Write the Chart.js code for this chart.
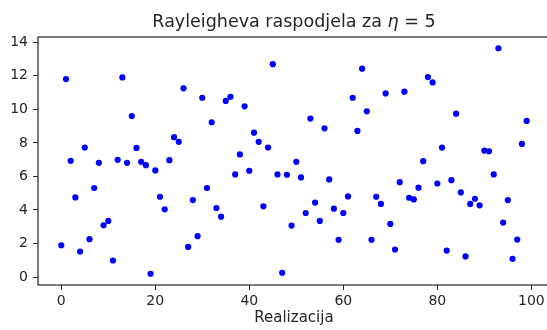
<!DOCTYPE html>
<html>
<head>
<meta charset="utf-8">
<script src="https://cdn.jsdelivr.net/npm/chart.js@4"></script>
<style>
  html, body { margin: 0; padding: 0; background: #fff; overflow: hidden; }
  #wrap { width: 553px; height: 330px; }
</style>
</head>
<body>
<div id="wrap"><canvas id="rayleighChart" width="553" height="330"></canvas></div>
<script>
// uzorci Rayleigheve razdiobe, eta = 5
var realizacije = Array.from({ length: 100 }, (_, i) => i);
var uzorci = [
    1.90, 11.80, 6.93, 4.75, 1.52, 7.72, 2.26, 5.31, 6.81, 3.09,
    3.35, 0.99, 6.99, 11.90, 6.81, 9.60, 7.70, 6.87, 6.67, 0.20,
    6.36, 4.79, 4.04, 6.97, 8.34, 8.06, 11.25, 1.80, 4.59, 2.44,
    10.69, 5.31, 9.23, 4.12, 3.60, 10.50, 10.75, 6.12, 7.31, 10.18,
    6.34, 8.61, 8.06, 4.22, 7.72, 12.69, 6.12, 0.26, 6.10, 3.07,
    6.87, 5.94, 3.82, 9.45, 4.44, 3.35, 8.87, 5.82, 4.08, 2.22,
    3.82, 4.81, 10.69, 8.71, 12.42, 9.88, 2.22, 4.79, 4.36, 10.95,
    3.17, 1.64, 5.66, 11.05, 4.73, 4.63, 5.33, 6.91, 11.92, 11.60,
    5.58, 7.72, 1.58, 5.78, 9.74, 5.05, 1.23, 4.36, 4.67, 4.28,
    7.54, 7.50, 6.12, 13.64, 3.25, 4.59, 1.09, 2.24, 7.94, 9.31
];
var xTicks = [0, 20, 40, 60, 80, 100];
var yTicks = [0, 2, 4, 6, 8, 10, 12, 14];

var tamno = '#262626';
var font = 'DejaVu Sans';

// okvir, naslov i oznaka x osi
var okvir = {
    id: 'okvir',
    afterDraw(chart) {
        var ctx = chart.ctx, a = chart.chartArea;
        ctx.save();
        ctx.strokeStyle = tamno;
        ctx.lineWidth = 1.2;
        ctx.strokeRect(a.left, a.top, a.right - a.left, a.bottom - a.top);

        ctx.fillStyle = tamno;
        ctx.textBaseline = 'alphabetic';
        var dijelovi = [
            ['Rayleigheva raspodjela za ', 'normal'],
            ['\u03b7', 'italic'],
            [' = 5', 'normal']
        ];
        var size = 17.5, total = 0;
        dijelovi.forEach(d => {
            ctx.font = d[1] + ' ' + size + 'px "' + font + '"';
            d.push(ctx.measureText(d[0]).width);
            total += d[2];
        });
        var x = (a.left + a.right) / 2 - total / 2;
        dijelovi.forEach(d => {
            ctx.font = d[1] + ' ' + size + 'px "' + font + '"';
            ctx.textAlign = 'left';
            ctx.fillText(d[0], x, 27);
            x += d[2];
        });

        ctx.font = '15px "' + font + '"';
        ctx.textAlign = 'center';
        ctx.fillText('Realizacija', (a.left + a.right) / 2, 322);
        ctx.restore();
    }
};

var ctx = document.getElementById('rayleighChart').getContext('2d');
var chart = new Chart(ctx, {
    type: 'scatter',
    data: {
        labels: realizacije,
        datasets: [{
            data: realizacije.map((x, i) => ({ x: x, y: uzorci[i] })),
            backgroundColor: '#0000ff',
            borderWidth: 0,
            pointRadius: 3.1,
            pointHoverRadius: 3.1
        }]
    },
    options: {
        responsive: false,
        animation: false,
        events: [],
        layout: { padding: { top: 37, right: 3, left: 0, bottom: 0 } },
        plugins: {
            legend: { display: false },
            tooltip: { enabled: false }
        },
        scales: {
            x: {
                type: 'linear',
                min: -4.95,
                max: 103.95,
                afterBuildTicks: s => { s.ticks = xTicks.map(v => ({ value: v })); },
                afterFit: s => { s.height = 45; },
                grid: {
                    drawOnChartArea: false,
                    drawTicks: true,
                    tickLength: 5,
                    tickColor: tamno,
                    tickWidth: 1
                },
                border: { display: false },
                ticks: {
                    color: tamno,
                    font: { family: font, size: 14 },
                    padding: 3,
                    maxRotation: 0
                }
            },
            y: {
                type: 'linear',
                min: -0.47,
                max: 14.31,
                afterBuildTicks: s => { s.ticks = yTicks.map(v => ({ value: v })); },
                afterFit: s => { s.width = 38; },
                grid: {
                    drawOnChartArea: false,
                    drawTicks: true,
                    tickLength: 5,
                    tickColor: tamno,
                    tickWidth: 1
                },
                border: { display: false },
                ticks: {
                    color: tamno,
                    font: { family: font, size: 14 },
                    padding: 5
                }
            }
        }
    },
    plugins: [okvir]
});
</script>
</body>
</html>
